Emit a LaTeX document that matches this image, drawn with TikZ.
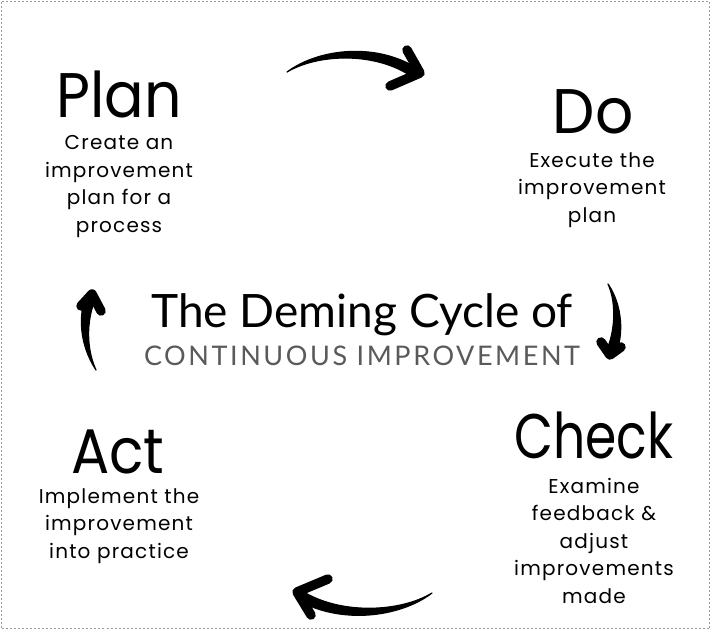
\documentclass[tikz,border=0pt]{standalone}
\usepackage{fontspec}
\newfontfamily\headfont{Poppins}
\newfontfamily\bodyfont[LetterSpace=6]{Poppins}
\newfontfamily\titlefont{Lato}
\newfontfamily\subfont[LetterSpace=9.5]{Lato}
\definecolor{subgray}{HTML}{5A5A5A}
\definecolor{bordergray}{HTML}{9A9A9A}
\tikzset{
  headtext/.style={anchor=base, inner sep=0pt, text depth=0pt, font=\headfont\fontsize{63}{70}\selectfont},
  bodytext/.style={anchor=base, inner sep=0pt, align=center, font=\bodyfont\fontsize{20}{27.5}\selectfont},
  brush/.style={fill=black, draw=black, line width=1.2pt, line join=round},
  brushhead/.style={draw=black, line width=9.5pt, line cap=round, line join=round},
}
\begin{document}
\begin{tikzpicture}[x=1pt,y=-1pt]
\useasboundingbox (0,0) rectangle (712,630);
\draw[bordergray, dash pattern=on 2pt off 2pt, line width=0.8pt] (1.5,1.5) rectangle (709.5,628.5);

% headings
\node[headtext] (plan) at (119,117) {\scalebox{0.93}[1]{Plan}};
\node[headtext] (do) at (593,133) {\scalebox{0.95}[1]{Do}};
\node[headtext] (act) at (118,473) {\scalebox{0.9}[1]{Act}};
\node[headtext] (check) at (594,458) {\scalebox{0.8}[1]{Check}};

% descriptions (anchored at the baseline of the last line)
\node[bodytext] (plandesc) at (119,232) {Create an\\improvement\\plan for a\\process};
\node[bodytext] (dodesc) at (592,222) {Execute the\\improvement\\plan};
\node[bodytext] (actdesc) at (119,558) {Implement the\\improvement\\into practice};
\node[bodytext] (checkdesc) at (594,603) {Examine\\feedback \&\\adjust\\improvements\\made};

% title
\node[anchor=base, inner sep=0pt, font=\titlefont\fontsize{46}{50}\selectfont] (title) at (362,327) {The Deming Cycle of};
\node[anchor=base, inner sep=0pt, text=subgray, font=\subfont\fontsize{27}{30}\selectfont] (subtitle) at (362,365) {CONTINUOUS IMPROVEMENT};

% top arrow (Plan -> Do)
\fill[brush] (287,72) .. controls (320,47.5) and (380,42) .. (421,71)
  -- (415,79) .. controls (380,52) and (320,52.5) .. (287,72) -- cycle;
\draw[brushhead] (407,50) -- (420,73) -- (390,86);

% right arrow (Do -> Check)
\fill[brush] (608,284) .. controls (622.5,305) and (624,335) .. (615.5,354.1)
  -- (606.5,349.9) .. controls (614,335) and (617.5,305) .. (608,284) -- cycle;
\draw[brushhead] (601,342) -- (610,355) -- (621,347);

% bottom arrow (Check -> Act)
\fill[brush] (432,593) .. controls (400,612.5) and (340,615) .. (301.6,590.7)
  -- (296.4,599.3) .. controls (340,625) and (400,617.5) .. (432,593) -- cycle;
\draw[brushhead] (328,579) -- (297,592) -- (311,615);

% left arrow (Act -> Plan)
\fill[brush] (96,370) .. controls (84.5,345) and (88,315) .. (95.6,299)
  -- (86.4,295) .. controls (78,315) and (79.5,345) .. (96,370) -- cycle;
\draw[brushhead] (81,306) -- (92,294) -- (101,311);
\end{tikzpicture}
\end{document}
